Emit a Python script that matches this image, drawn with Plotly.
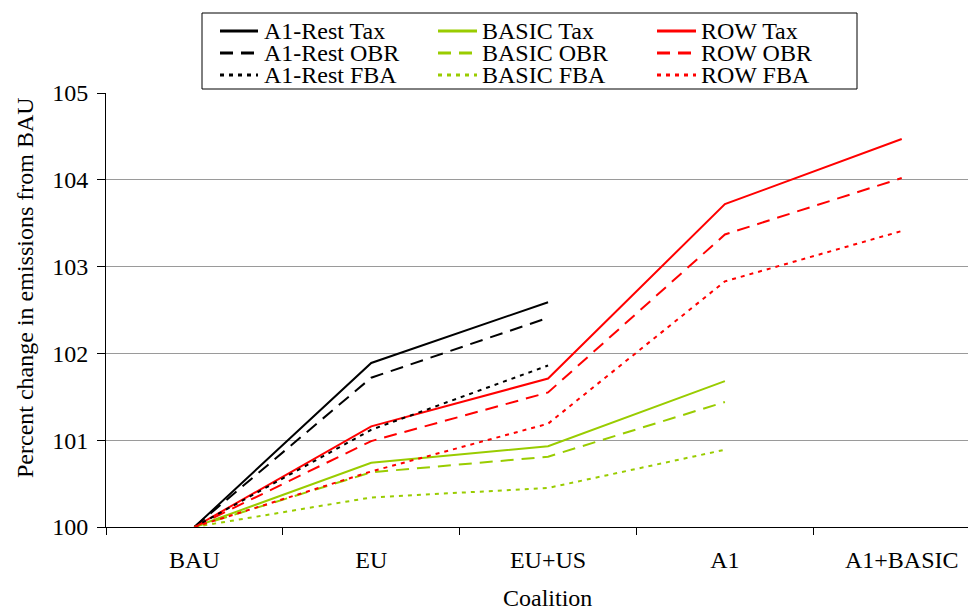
import plotly.graph_objects as go

categories = ["BAU", "EU", "EU+US", "A1", "A1+BASIC"]

a1rest_tax = [100, 101.89, 102.59]
a1rest_obr = [100, 101.72, 102.41]
a1rest_fba = [100, 101.12, 101.86]

basic_tax = [100, 100.74, 100.93, 101.68]
basic_obr = [100, 100.63, 100.81, 101.44]
basic_fba = [100, 100.34, 100.45, 100.89]

row_tax = [100, 101.16, 101.71, 103.72, 104.47]
row_obr = [100, 100.99, 101.55, 103.37, 104.02]
row_fba = [100, 100.64, 101.19, 102.83, 103.41]

BLACK = "#000000"
GREEN = "#99CC00"
RED = "#FF0000"
DASH = "13px,8px"
DOT = "4px,5px"

series = [
    ("A1-Rest Tax", a1rest_tax, BLACK, "solid"),
    ("BASIC Tax", basic_tax, GREEN, "solid"),
    ("ROW Tax", row_tax, RED, "solid"),
    ("A1-Rest OBR", a1rest_obr, BLACK, DASH),
    ("BASIC OBR", basic_obr, GREEN, DASH),
    ("ROW OBR", row_obr, RED, DASH),
    ("A1-Rest FBA", a1rest_fba, BLACK, DOT),
    ("BASIC FBA", basic_fba, GREEN, DOT),
    ("ROW FBA", row_fba, RED, DOT),
]

FONT = "Liberation Serif"
FS = 24

OFF = 8  # page body margin
W, H = 976 - OFF, 612 - OFF
L, R, T, B = 106 - OFF, 0, 93 - OFF, 85
PW, PH = W - L - R, H - T - B

def px_x(x):
    # x in screenshot pixels
    return (x - OFF - L) / PW

def px_y(y):
    return (H - B - (y - OFF)) / PH

fig = go.Figure()
for name, vals, color, dash in series:
    fig.add_trace(go.Scatter(
        x=categories[:len(vals)], y=vals, mode="lines", name=name,
        line=dict(color=color, width=2, dash=dash), showlegend=False,
    ))

# manual legend (Excel-style box)
shapes = [dict(type="rect", xref="paper", yref="paper",
               x0=px_x(202), x1=px_x(857), y0=px_y(89), y1=px_y(13),
               line=dict(color="#000000", width=1), fillcolor="white", layer="above")]
annotations = []
col_x = [(220, 258, 262), (438, 477, 480), (657, 696, 699)]
row_y = [31, 53, 75]
for i, (name, vals, color, dash) in enumerate(series):
    r, c = divmod(i, 3)
    lx0, lx1, tx = col_x[c]
    yy = row_y[r]
    shapes.append(dict(type="line", xref="paper", yref="paper",
                       x0=px_x(lx0), x1=px_x(lx1), y0=px_y(yy), y1=px_y(yy),
                       line=dict(color=color, width=3, dash=dash), layer="above"))
    annotations.append(dict(xref="paper", yref="paper", x=px_x(tx), y=px_y(yy),
                            text=name, showarrow=False, xanchor="left", yanchor="middle",
                            font=dict(family=FONT, size=FS, color="black")))

annotations.append(dict(xref="paper", yref="paper", x=px_x(25), y=px_y(288),
                        text="Percent change in emissions from BAU", textangle=-90,
                        showarrow=False, xanchor="center", yanchor="middle",
                        font=dict(family=FONT, size=FS, color="black")))
annotations.append(dict(xref="paper", yref="paper", x=px_x(547), y=px_y(598),
                        text="Coalition", showarrow=False, xanchor="center", yanchor="middle",
                        font=dict(family=FONT, size=FS, color="black")))

fig.update_layout(
    width=W, height=H,
    margin=dict(l=L, r=R, t=T, b=B, pad=0),
    paper_bgcolor="white", plot_bgcolor="white",
    font=dict(family=FONT, size=FS, color="black"),
    shapes=shapes, annotations=annotations,
    showlegend=False,
    xaxis=dict(type="category", categoryorder="array", categoryarray=categories,
               range=[-0.5, 4.42], tickson="boundaries", ticks="outside", ticklen=7,
               tickcolor="black", showline=True, linecolor="black", linewidth=1,
               showgrid=False, zeroline=False, ticklabelstandoff=11,
               tickfont=dict(family=FONT, size=FS)),
    yaxis=dict(range=[100, 105], dtick=1, tick0=100, ticks="outside", ticklen=8,
               tickcolor="black", showline=True, linecolor="black", linewidth=1,
               showgrid=True, gridcolor="#9a9a9a", gridwidth=1, zeroline=False,
               ticklabelstandoff=4, tickfont=dict(family=FONT, size=FS)),
)

fig.write_html("out.html")
